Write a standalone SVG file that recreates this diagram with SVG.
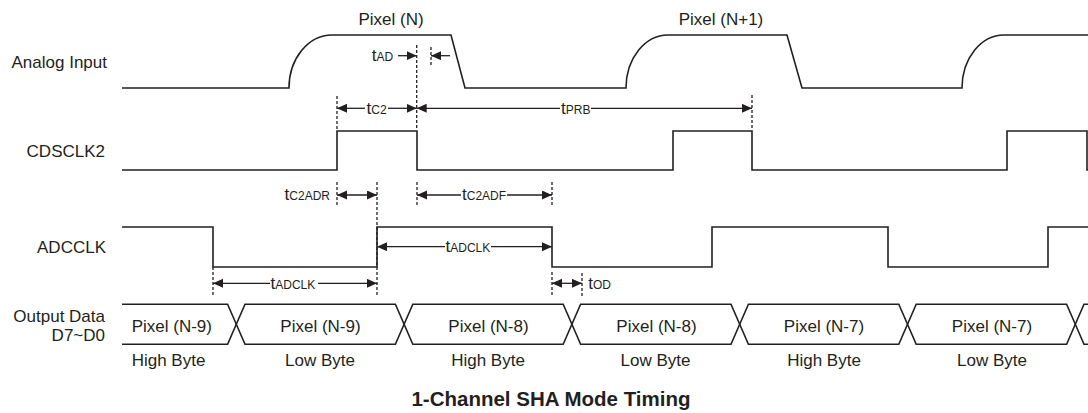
<svg xmlns="http://www.w3.org/2000/svg" width="1088" height="413" viewBox="0 0 1088 413">
<style>
.wave{fill:none;stroke:#231f20;stroke-width:1.6;stroke-linejoin:miter}
.dash{fill:none;stroke:#231f20;stroke-width:1.3;stroke-dasharray:3,2}
.arr{fill:none;stroke:#231f20;stroke-width:1.3}
.lbl{font-family:"Liberation Sans",Arial,sans-serif;font-size:17px;fill:#231f20}
.t{font-family:"Liberation Sans",Arial,sans-serif;font-size:17px;fill:#231f20}
.sub{font-size:12px}
.ttl{font-family:"Liberation Sans",Arial,sans-serif;font-size:20.5px;font-weight:bold;fill:#231f20}
</style>
<defs>
<marker id="ah" markerUnits="userSpaceOnUse" markerWidth="11" markerHeight="10" refX="10" refY="4.5" orient="auto-start-reverse">
<path d="M0,0 L10,4.5 L0,9 z" fill="#231f20"/>
</marker>
</defs>
<rect width="1088" height="413" fill="#fff"/>

<g id="analog-input">
<text class="lbl" x="107" y="68" text-anchor="end">Analog Input</text>
<text class="lbl" x="391" y="25" text-anchor="middle">Pixel (N)</text>
<text class="lbl" x="721" y="25" text-anchor="middle">Pixel (N+1)</text>
<path class="wave" d="M122,88 H289 A43,53 0 0 1 332,35 H451 L465,88 H626 A42,53 0 0 1 668,35 H787 L802,88 H962 A42,53 0 0 1 1004,35 H1088"/>
</g>

<g id="cdsclk2">
<text class="lbl" x="105" y="157" text-anchor="end">CDSCLK2</text>
<path class="wave" d="M122,170 H337 V131 H417 V170 H673 V131 H752 V170 H1007 V131 H1087 V170 H1088"/>
</g>

<g id="adcclk">
<text class="lbl" x="106" y="253" text-anchor="end">ADCCLK</text>
<path class="wave" d="M122,227 H213 V267 H377 V227 H552 V267 H712 V227 H888 V267 H1048 V227 H1088"/>
</g>

<g id="output-data">
<text class="lbl" x="105" y="321.5" text-anchor="end">Output Data</text>
<text class="lbl" x="105" y="341" text-anchor="end">D7~D0</text>
<path class="wave" d="M122,304.3 H227.6 L245,344.3 H395.4 L412.8,304.3 H563.2 L580.6,344.3 H731 L748.4,304.3 H898.8 L916.2,344.3 H1066.6 L1084,304.3 H1088"/>
<path class="wave" d="M122,344.3 H227.6 L245,304.3 H395.4 L412.8,344.3 H563.2 L580.6,304.3 H731 L748.4,344.3 H898.8 L916.2,304.3 H1066.6 L1084,344.3 H1088"/>
<text class="lbl" x="131.7" y="331.5">Pixel (N-9)</text>
<text class="lbl" x="320.5" y="331.5" text-anchor="middle">Pixel (N-9)</text>
<text class="lbl" x="488.5" y="331.5" text-anchor="middle">Pixel (N-8)</text>
<text class="lbl" x="656.5" y="331.5" text-anchor="middle">Pixel (N-8)</text>
<text class="lbl" x="824" y="331.5" text-anchor="middle">Pixel (N-7)</text>
<text class="lbl" x="992" y="331.5" text-anchor="middle">Pixel (N-7)</text>
<text class="lbl" x="131.7" y="366">High Byte</text>
<text class="lbl" x="320" y="366" text-anchor="middle">Low Byte</text>
<text class="lbl" x="488" y="366" text-anchor="middle">High Byte</text>
<text class="lbl" x="655.5" y="366" text-anchor="middle">Low Byte</text>
<text class="lbl" x="824" y="366" text-anchor="middle">High Byte</text>
<text class="lbl" x="992" y="366" text-anchor="middle">Low Byte</text>
</g>

<g id="connectors">
<path class="dash" d="M416.7,45 V130 M431,47 V65 M337,96 V130 M752,95 V130 M337,182 V207 M417,182 V207 M377,182 V297 M552,182 V207 M552,272 V297 M213,267 V297 M582,273 V297"/>
<line class="arr" x1="398" y1="55.7" x2="416.7" y2="55.7" marker-end="url(#ah)"/>
<line class="arr" x1="450" y1="55.7" x2="431" y2="55.7" marker-end="url(#ah)"/>
<line class="arr" x1="365" y1="108.3" x2="337" y2="108.3" marker-end="url(#ah)"/>
<line class="arr" x1="388" y1="108.3" x2="416.7" y2="108.3" marker-end="url(#ah)"/>
<line class="arr" x1="560" y1="108.3" x2="416.7" y2="108.3" marker-end="url(#ah)"/>
<line class="arr" x1="591" y1="108.3" x2="752" y2="108.3" marker-end="url(#ah)"/>
<line class="arr" x1="337" y1="195" x2="377" y2="195" marker-start="url(#ah)" marker-end="url(#ah)"/>
<line class="arr" x1="461" y1="195" x2="417" y2="195" marker-end="url(#ah)"/>
<line class="arr" x1="507" y1="195" x2="552" y2="195" marker-end="url(#ah)"/>
<line class="arr" x1="445" y1="246.7" x2="377" y2="246.7" marker-end="url(#ah)"/>
<line class="arr" x1="491" y1="246.7" x2="552" y2="246.7" marker-end="url(#ah)"/>
<line class="arr" x1="270" y1="283.3" x2="213" y2="283.3" marker-end="url(#ah)"/>
<line class="arr" x1="318" y1="283.3" x2="377" y2="283.3" marker-end="url(#ah)"/>
<line class="arr" x1="552" y1="283.3" x2="582" y2="283.3" marker-start="url(#ah)" marker-end="url(#ah)"/>
</g>

<g id="timing-labels">
<text class="t" x="371.7" y="61">t<tspan class="sub">AD</tspan></text>
<text class="t" x="366.5" y="113.5">t<tspan class="sub">C2</tspan></text>
<text class="t" x="561" y="113.5">t<tspan class="sub">PRB</tspan></text>
<text class="t" x="330" y="200" text-anchor="end">t<tspan class="sub">C2ADR</tspan></text>
<text class="t" x="462" y="200">t<tspan class="sub">C2ADF</tspan></text>
<text class="t" x="445.5" y="252">t<tspan class="sub">ADCLK</tspan></text>
<text class="t" x="270.5" y="288.5">t<tspan class="sub">ADCLK</tspan></text>
<text class="t" x="588.3" y="288.5">t<tspan class="sub">OD</tspan></text>
</g>

<g id="title">
<text class="ttl" x="551" y="406" text-anchor="middle">1-Channel SHA Mode Timing</text>
</g>
</svg>
